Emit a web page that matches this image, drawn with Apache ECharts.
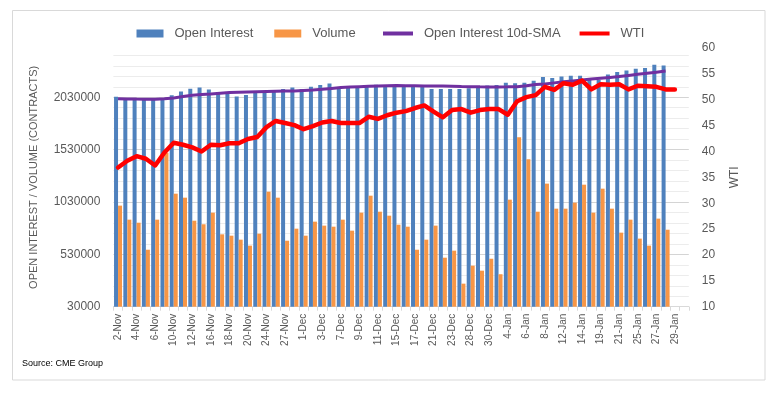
<!DOCTYPE html>
<html>
<head>
<meta charset="utf-8">
<script src="https://cdn.jsdelivr.net/npm/echarts@6/dist/echarts.min.js"></script>
<style>
html,body{margin:0;padding:0;background:#fff;}
#chart{width:776px;height:393px;}
</style>
</head>
<body>
<div id="chart"></div>
<script>
const categories = ['2-Nov','3-Nov','4-Nov','5-Nov','6-Nov','9-Nov','10-Nov','11-Nov','12-Nov','13-Nov',
  '16-Nov','17-Nov','18-Nov','19-Nov','20-Nov','23-Nov','24-Nov','25-Nov','27-Nov','30-Nov',
  '1-Dec','2-Dec','3-Dec','4-Dec','7-Dec','8-Dec','9-Dec','10-Dec','11-Dec','14-Dec',
  '15-Dec','16-Dec','17-Dec','18-Dec','21-Dec','22-Dec','23-Dec','24-Dec','28-Dec','29-Dec',
  '30-Dec','31-Dec','4-Jan','5-Jan','6-Jan','7-Jan','8-Jan','11-Jan','12-Jan','13-Jan',
  '14-Jan','15-Jan','19-Jan','20-Jan','21-Jan','22-Jan','25-Jan','26-Jan','27-Jan','28-Jan',
  '29-Jan',''];

const openInterest = [2035000,2014000,2011000,2011000,2014000,2018000,2049000,2085000,2111000,2122000,
  2104000,2076000,2076000,2036000,2052000,2071000,2085000,2100000,2109000,2122000,
  2109000,2131000,2147000,2160000,2128000,2123000,2131000,2131000,2150000,2145000,
  2145000,2147000,2147000,2138000,2109000,2109000,2109000,2109000,2116000,2131000,
  2141000,2147000,2169000,2164000,2169000,2188000,2224000,2214000,2227000,2236000,
  2236000,2195000,2195000,2246000,2272000,2284000,2303000,2310000,2341000,2332000,
  null,null];

const volume = [995000,861000,832000,574000,861000,1501000,1109000,1071000,851000,817000,
  928000,721000,708000,670000,613000,727000,1128000,1071000,660000,775000,
  708000,842000,804000,794000,861000,756000,928000,1090000,937000,899000,
  813000,794000,574000,670000,804000,498000,565000,250000,422000,374000,
  488000,340000,1052000,1648000,1438000,937000,1205000,966000,966000,1023000,
  1195000,928000,1157000,966000,737000,861000,680000,613000,871000,765000,
  null,null];

const oiSMA = [2016000,2014000,2012000,2011000,2011000,2015000,2023000,2036000,2049000,2055000,
  2061000,2068000,2074000,2078000,2081000,2083000,2085000,2087000,2089000,2090000,
  2095000,2100000,2106000,2114000,2122000,2127000,2131000,2134000,2137000,2139000,
  2141000,2140000,2139000,2138000,2138000,2136000,2134000,2132000,2131000,2129000,
  2128000,2128000,2129000,2131000,2140000,2152000,2157000,2167000,2177000,2186000,
  2195000,2203000,2211000,2219000,2227000,2238000,2249000,2259000,2269000,2281000,
  null,null];

const wti = [36.9,38.2,39.1,38.6,37.3,39.8,41.7,41.3,40.8,40.0,
  41.3,41.2,41.6,41.6,42.4,42.8,44.7,45.9,45.5,45.1,
  44.3,44.9,45.6,45.9,45.5,45.5,45.5,46.7,46.3,47.0,
  47.5,47.8,48.4,48.9,47.7,46.6,48.0,48.2,47.5,48.0,
  48.2,48.2,47.1,49.7,50.5,50.9,52.5,51.9,53.2,52.9,
  53.7,52.0,53.0,52.9,53.0,52.0,52.7,52.6,52.5,52.0,
  52.0,null];

const leftTicks = {min: 30000, max: 2500000, interval: 500000, minor: 100000};
const rightTicks = {min: 10, max: 60, interval: 5};

const FONT = 'Liberation Sans';
const chart = echarts.init(document.getElementById('chart'), null, {renderer: 'canvas'});

const gridColors = ['#d4d4d4','#ececec','#ececec','#ececec','#ececec'];
const legendText = {fontSize: 13, color: '#595959', fontFamily: FONT, padding: [0, 0, 0, 6]};

chart.setOption({
  animation: false,
  backgroundColor: '#ffffff',
  textStyle: {fontFamily: FONT},
  graphic: [
    {type: 'rect', shape: {x: 12.5, y: 10.5, width: 752.5, height: 369.5},
     style: {fill: 'none', stroke: '#d9d9d9', lineWidth: 1}, silent: true, z: -10},
    {type: 'text', left: 22, top: 359,
     style: {text: 'Source: CME Group', fontSize: 9, fontFamily: FONT, fill: '#000000'}}
  ],
  legend: [
    {
      top: 22, left: 131.5,
      itemWidth: 27, itemHeight: 8, itemGap: 21,
      icon: 'rect',
      textStyle: legendText,
      data: ['Open Interest', 'Volume']
    },
    {
      top: 22, left: 378,
      itemWidth: 30, itemHeight: 4, itemGap: 19,
      icon: 'rect',
      textStyle: legendText,
      data: ['Open Interest 10d-SMA', 'WTI']
    }
  ],
  grid: {left: 113.4, right: 87.2, top: 48, bottom: 86.3, containLabel: false},
  xAxis: {
    type: 'category',
    data: categories,
    boundaryGap: true,
    axisLine: {lineStyle: {color: '#d9d9d9', width: 1}},
    axisTick: {show: true, interval: 0, length: 4, lineStyle: {color: '#d9d9d9'}},
    axisLabel: {interval: 1, rotate: 90, fontSize: 10, color: '#595959', margin: 7, fontFamily: FONT},
    splitLine: {show: false}
  },
  yAxis: [
    {
      type: 'value', position: 'left',
      min: leftTicks.min, max: leftTicks.max, interval: leftTicks.interval,
      axisLine: {show: false}, axisTick: {show: false},
      axisLabel: {fontSize: 12, color: '#595959', margin: 13, showMaxLabel: false, fontFamily: FONT,
        formatter: function (v) { return String(v); }},
      splitLine: {show: false},
      name: 'OPEN INTEREST / VOLUME (CONTRACTS)',
      nameLocation: 'middle', nameGap: 74,
      nameTextStyle: {fontSize: 11, color: '#595959', fontFamily: FONT}
    },
    {
      type: 'value', position: 'right',
      min: rightTicks.min, max: rightTicks.max, interval: rightTicks.interval,
      axisLine: {show: false}, axisTick: {show: false},
      axisLabel: {fontSize: 12, color: '#595959', margin: 13, fontFamily: FONT},
      splitLine: {show: false},
      name: 'WTI', nameLocation: 'middle', nameGap: 40, nameRotate: 90,
      nameTextStyle: {fontSize: 12, color: '#595959', fontFamily: FONT}
    },
    {
      type: 'value', position: 'left',
      min: leftTicks.min, max: leftTicks.max, interval: leftTicks.minor,
      axisLine: {show: false}, axisTick: {show: false}, axisLabel: {show: false},
      splitLine: {show: true, showMaxLine: false, lineStyle: {color: gridColors, width: 1}}
    }
  ],
  series: [
    {name: 'Open Interest', type: 'bar', yAxisIndex: 0, data: openInterest,
     barWidth: 4, barGap: '0%', itemStyle: {color: '#4F81BD'}, z: 2},
    {name: 'Volume', type: 'bar', yAxisIndex: 0, data: volume,
     barWidth: 4, barGap: '0%', itemStyle: {color: '#F79646'}, z: 2},
    {name: 'Open Interest 10d-SMA', type: 'line', yAxisIndex: 0, data: oiSMA,
     symbol: 'none', lineStyle: {color: '#7030A0', width: 3}, itemStyle: {color: '#7030A0'}, z: 3},
    {name: 'WTI', type: 'line', yAxisIndex: 1, data: wti,
     symbol: 'none', lineStyle: {color: '#FF0000', width: 4.5, join: 'round', cap: 'round'},
     itemStyle: {color: '#FF0000'}, z: 4}
  ]
});
</script>
</body>
</html>
